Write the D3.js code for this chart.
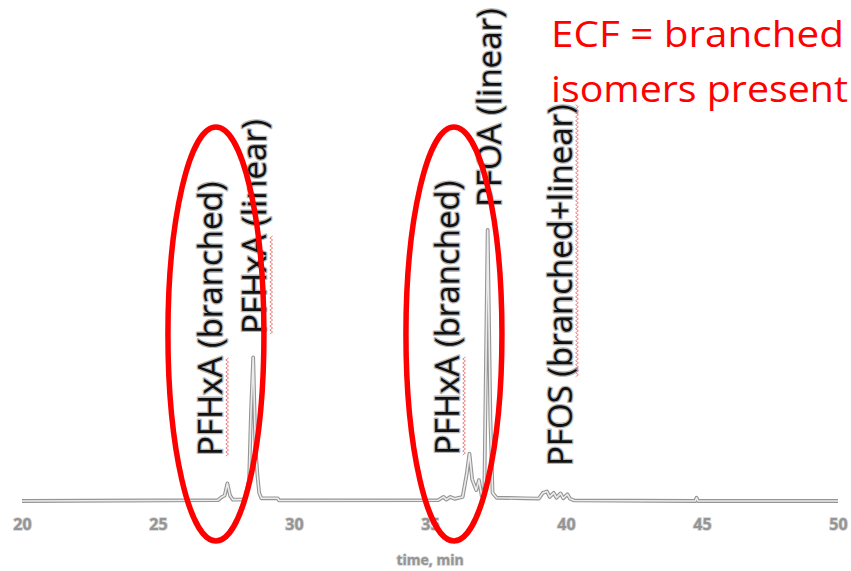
<!DOCTYPE html>
<html>
<head>
<meta charset="utf-8">
<script src="https://cdn.jsdelivr.net/npm/d3@7/dist/d3.min.js"></script>
<style>
  html, body { margin: 0; padding: 0; background: #fff; }
  svg { display: block; }
</style>
</head>
<body>
<svg id="chart" width="851" height="571"></svg>
<script>
// Retention time (min) of each trace point
const retentionTime = [
  20.0, 27.2, 27.35, 27.45, 27.55, 27.65, 27.75,
  28.2, 28.35, 28.42, 28.5, 28.58, 28.66, 28.72, 28.8, 29.4, 29.45,
  35.3, 35.5, 35.6, 35.75, 35.9, 36.2, 36.35, 36.45, 36.55, 36.7, 36.8, 36.9,
  37.0, 37.12, 37.22, 37.3, 37.45, 38.5, 39.0,
  39.15, 39.3, 39.4, 39.55, 39.65, 39.8, 39.9, 40.05, 40.15, 40.3,
  44.75, 44.8, 44.85, 50.0
];
// Relative detector response at each retention time
const response = [
  0, 0.3, 1.5, 2, 6.5, 2, 0.5,
  0.5, 8, 33, 53, 20, 9, 3, 1, 1, 0.2,
  0.3, 1.5, 0.5, 1.5, 0.8, 1.5, 10, 17.5, 8, 4, 7.7, 2,
  5, 100, 30, 3, 1.2, 1.0, 0.9,
  3, 3.5, 1.5, 3, 1.2, 2.8, 1, 2.5, 0.8, 0.2,
  0, 1.2, 0, 0
];
// Time axis ticks
const timeTicks = [20, 25, 30, 35, 40, 45, 50];
const axisTitle = "time, min";

// Peak annotations: label, retention time the label sits at, and the word flagged by the spell-checker
const peakLabels = ["PFHxA (branched)", "PFHxA (linear)", "PFHxA (branched)", "PFOA (linear)", "PFOS (branched+linear)"];
const peakLabelTimes = [27.36, 28.98, 36.07, 37.62, 40.22];
const flaggedWords = ["PFHxA", "PFHxA", "PFHxA", null, "(branched+linear)"];

// Highlighted regions (time centre)
const regionCentres = [27.13, 35.88];
const noteLines = ["ECF = branched", "isomers present"];

const svg = d3.select("#chart");
const W = 851, H = 571;
svg.append("rect").attr("width", W).attr("height", H).attr("fill", "#fff");

const x = d3.scaleLinear().domain([20, 50]).range([22, 838]);
const y = d3.scaleLinear().domain([0, 100]).range([501, 230]);

const trace = retentionTime.map((t, i) => ({ t, v: response[i] }));
const line = d3.line().x(d => x(d.t)).y(d => y(d.v));

// Chromatogram trace drawn as an outlined (hollow) grey line
svg.append("path").datum(trace)
  .attr("d", line).attr("fill", "none")
  .attr("stroke", "#959595").attr("stroke-width", 3.8)
  .attr("stroke-linejoin", "round");
svg.append("path").datum(trace)
  .attr("d", line).attr("fill", "none")
  .attr("stroke", "#ececec").attr("stroke-width", 1.6)
  .attr("stroke-linejoin", "round");

// Time axis
const axis = svg.append("g")
  .attr("transform", `translate(0,${y(0)})`)
  .call(d3.axisBottom(x).tickValues(timeTicks).tickSize(0).tickPadding(18).tickFormat(d3.format("d")));
axis.select(".domain").remove();
axis.selectAll("text")
  .attr("font-family", "'Open Sans', sans-serif")
  .attr("font-size", 16).attr("font-weight", "bold")
  .attr("fill", "#959595")
  .attr("stroke", "#d4d4d4").attr("stroke-width", 1.6)
  .attr("paint-order", "stroke");

svg.append("text")
  .attr("x", x(35)).attr("y", 565)
  .attr("text-anchor", "middle")
  .attr("font-family", "'Open Sans', sans-serif")
  .attr("font-size", 14).attr("font-weight", "bold")
  .attr("fill", "#959595")
  .attr("stroke", "#d4d4d4").attr("stroke-width", 1.4)
  .attr("paint-order", "stroke")
  .text(axisTitle);

// Vertical peak labels
const labelBottoms = [456, 334, 455, 207, 466];
peakLabels.forEach((lab, i) => {
  const px = x(peakLabelTimes[i]);
  const g = svg.append("g").attr("transform", `translate(${px},${labelBottoms[i]}) rotate(-90)`);
  const txt = g.append("text")
    .attr("x", 0).attr("y", 0)
    .attr("font-family", "'Open Sans', sans-serif")
    .attr("font-size", 33)
    .attr("fill", "#111")
    .attr("stroke", "#b5b5b5").attr("stroke-width", 2.6)
    .attr("stroke-linejoin", "round")
    .attr("paint-order", "stroke")
    .text(lab);
  const word = flaggedWords[i];
  if (word) {
    const start = lab.indexOf(word);
    const node = txt.node();
    const x0 = start > 0 ? node.getSubStringLength(0, start) : 0;
    const len = node.getSubStringLength(start, word.length);
    const pts = [];
    for (let s = 0, k = 0; s <= len; s += 2, k++) pts.push([x0 + s, 5 + (k % 2 ? 1.4 : -1.4)]);
    g.append("path")
      .attr("d", d3.line()(pts))
      .attr("fill", "none")
      .attr("stroke", "#ef7070").attr("stroke-width", 1)
      .attr("opacity", 0.85);
  }
});

// Red ellipses around the branched-isomer regions
regionCentres.forEach(c => {
  svg.append("ellipse")
    .attr("cx", x(c)).attr("cy", 334)
    .attr("rx", 48).attr("ry", 207)
    .attr("fill", "none")
    .attr("stroke", "#ff0000").attr("stroke-width", 5.5);
});

// Red note, top right (slightly widened lettering, kept inside the right edge)
const noteLeft = 551;
const note = svg.append("g").attr("transform", `translate(${noteLeft},0)`);
const noteTexts = noteLines.map((t, i) => note.append("text")
  .attr("x", 0).attr("y", 47 + i * 55)
  .attr("font-family", "'Open Sans', sans-serif")
  .attr("font-size", 36)
  .attr("fill", "#ff0000")
  .text(t));
const sx = 293 / noteTexts[0].node().getComputedTextLength();
const room = W - noteLeft - 3;
noteTexts.forEach(t => {
  const len = t.node().getComputedTextLength();
  const s = Math.min(sx, room / len);
  t.attr("transform", `scale(${s},1)`);
});
</script>
</body>
</html>
